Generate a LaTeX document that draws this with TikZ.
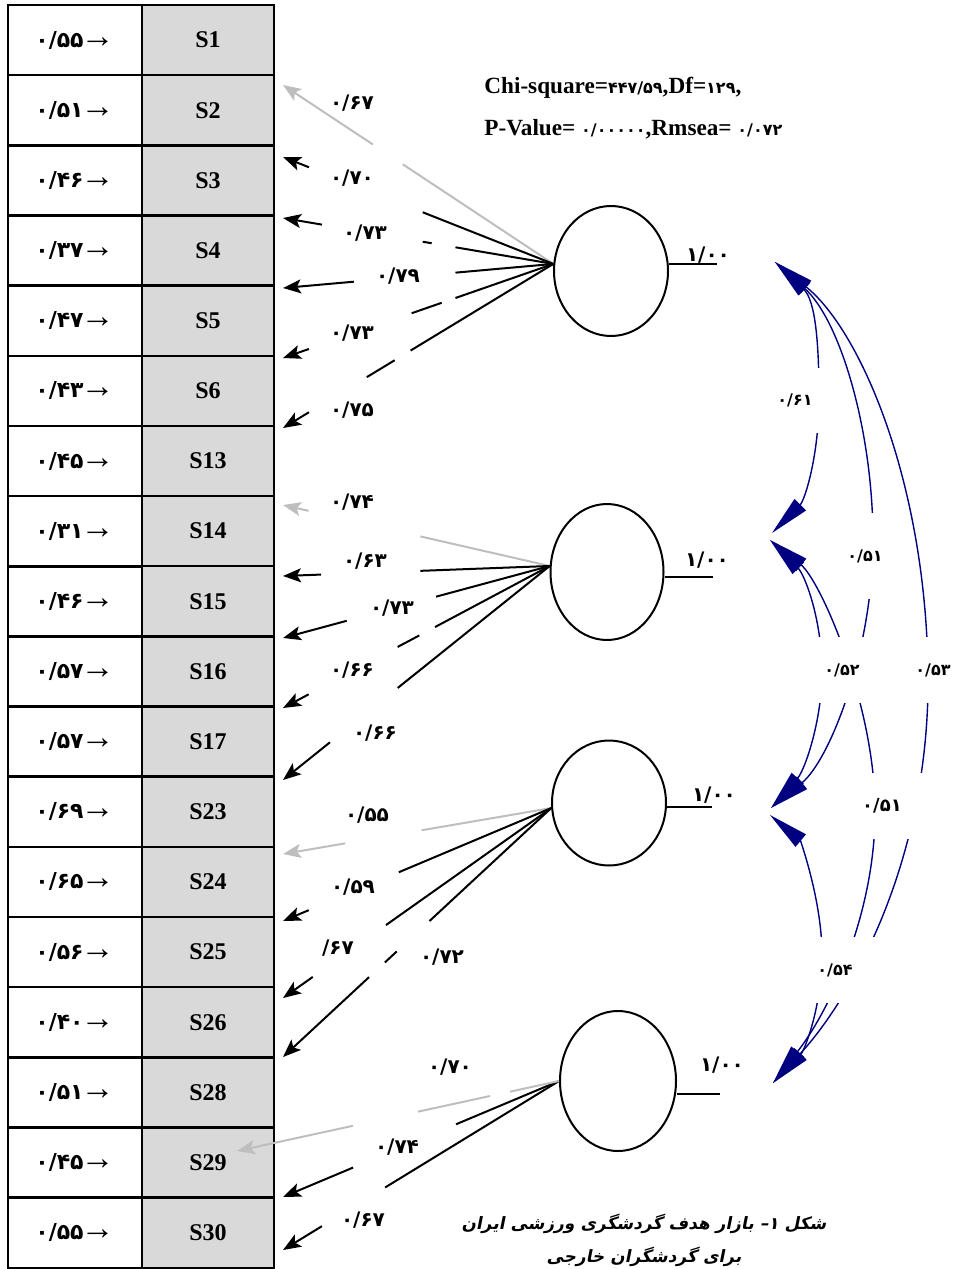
\documentclass[tikz,border=0pt]{standalone}
\usepackage{fontspec}
\usetikzlibrary{calc,arrows.meta,shapes.geometric}
\setmainfont{Liberation Serif}
\newfontfamily\fadig{DejaVu Sans}
\newfontfamily\facap[Script=Arabic,FakeSlant=0.2]{DejaVu Sans}
\TeXXeTstate=1
\definecolor{cellgrey}{RGB}{217,217,217}
\definecolor{lgrey}{RGB}{190,190,190}
\definecolor{corrblue}{RGB}{0,0,128}
\newcommand{\rarr}{{\rmfamily\bfseries\fontsize{17}{14}\selectfont\kern-1.5pt→}}
\newcommand{\fd}[1]{{\fadig\fontsize{8}{8}\selectfont #1}}

\begin{document}
\begin{tikzpicture}[x=0.5pt,y=-0.5pt,
	errcell/.style={draw,line width=1.25pt,minimum width=67pt,minimum height=35.1pt,inner sep=0pt,font=\fadig\bfseries\fontsize{11}{12}\selectfont},
	itemcell/.style={errcell,fill=cellgrey,minimum width=66pt,font=\bfseries\fontsize{12}{14}\selectfont},
	factor/.style={draw,ellipse,line width=1pt,inner sep=0pt},
	load/.style={line width=1pt},
	headed/.style={-{Stealth[length=9pt,width=7pt,inset=2pt]}},
	lab/.style={font=\fadig\bfseries\fontsize{10}{12}\selectfont,inner sep=1pt},
	corr/.style={draw=corrblue,line width=0.7pt,{Triangle[length=20pt,width=8pt]}-{Triangle[length=20pt,width=8pt]}},
	clab/.style={fill=white,inner sep=0pt,font=\fadig\bfseries\fontsize{8}{10}\selectfont}]
	\useasboundingbox (0,0) rectangle (954,1269);
	% table of items
	\foreach \s/\v [count=\i from 0] in {1/۵۵,2/۵۱,3/۴۶,4/۳۷,5/۴۷,6/۴۳,13/۴۵,14/۳۱,15/۴۶,16/۵۷,17/۵۷,23/۶۹,24/۶۵,25/۵۶,26/۴۰,28/۵۱,29/۴۵,30/۵۵}{
		\node[errcell] (e\s) at (75,{40.1+70.15*\i}) {۰/\v\rarr};
		\node[itemcell] (s\s) at (208,{40.1+70.15*\i}) {S\s};
	}
	% factors
	\node[factor,minimum width=57pt,minimum height=65pt] (f1) at (611,271) {};
	\node[factor,minimum width=56.5pt,minimum height=68pt] (f2) at (607,572) {};
	\node[factor,minimum width=57pt,minimum height=62.5pt] (f3) at (609,803) {};
	\node[factor,minimum width=58pt,minimum height=70pt] (f4) at (618,1081) {};
	\coordinate (v1) at (717,264);
	\coordinate (v2) at (713,577);
	\coordinate (v3) at (712,807);
	\coordinate (v4) at (720,1094);
	\foreach \k in {1,...,4}
		\draw[load] (f\k.east |- v\k) -- (v\k);
	\node[lab] (u1) at (708,255) {۱/۰۰};
	\node[lab] (u2) at (707,560) {۱/۰۰};
	\node[lab] (u3) at (714,795) {۱/۰۰};
	\node[lab] (u4) at (722,1065) {۱/۰۰};
	% loadings
	\foreach \n/\y in {1/85,2/157,3/218,4/288,5/358,6/428,7/505,8/576,9/638,10/708,11/780,12/854,13/921,14/998,15/1057,17/1197,18/1250}
		\coordinate (t\n) at (283,\y);
	\coordinate (t16) at (237,1151);
	\foreach \fa/\tp/\p/\q/\cl in {f1.173/t1/.557/.668/lgrey, f1.173/t2/.483/.904/black, f1.173/t3/.362/.856/black, f1.173/t4/.362/.738/black, f1.173/t5/.362/.904/black, f1.173/t6/.528/.904/black,
		f2.174/t7/.485/.904/lgrey, f2.174/t8/.485/.857/black, f2.174/t9/.426/.761/black, f2.174/t10/.430/.904/black, f2.174/t11/.570/.824/black,
		f3.185/t12/.483/.768/lgrey, f3.185/t13/.568/.904/black, f3.185/t14/.616/.889/black, f3.185/t15/.454/.679/black,
		f4.180/t17/.373/.746/black, f4.180/t18/.630/.859/black}
		\draw[load,\cl,headed] (\fa) -- ($(\fa)!\p!(\tp)$) ($(\fa)!\q!(\tp)$) -- (\tp);
	\draw[load,lgrey,headed] (f4.180) -- ($(f4.180)!.152!(t16)$) ($(f4.180)!.214!(t16)$) -- ($(f4.180)!.438!(t16)$) ($(f4.180)!.640!(t16)$) -- (t16);
	\draw[load] ($(f1.173)!.450!(t3)$) -- ($(f1.173)!.483!(t3)$)
		($(f1.173)!.413!(t5)$) -- ($(f1.173)!.524!(t5)$)
		($(f1.173)!.587!(t6)$) -- ($(f1.173)!.690!(t6)$)
		($(f2.174)!.489!(t10)$) -- ($(f2.174)!.570!(t10)$)
		($(f3.185)!.576!(t15)$) -- ($(f3.185)!.620!(t15)$);
	\foreach \x/\y/\v [count=\j] in {352/103/۶۷, 352/178/۷۰, 365/233/۷۳, 398/276/۷۹, 352/333/۷۳, 352/410/۷۵, 352/502/۷۴, 365/561/۶۳, 392/608/۷۳, 352/670/۶۶, 375/733/۶۶, 367/815/۵۵, 353/887/۵۹, 442/957/۷۲, 450/1067/۷۰, 397/1147/۷۴, 363/1220/۶۷}
		\node[lab] (w\j) at (\x,\y) {۰/\v};
	\node[lab] (w18) at (338,948) {/۶۷};
	% correlations
	\coordinate (h1) at (775,262);
	\coordinate (h2a) at (772,533);
	\coordinate (h2b) at (770,540);
	\coordinate (h3a) at (771,808);
	\coordinate (h3b) at (770,815);
	\coordinate (h4) at (773,1083);
	\draw[corr] (h1) .. controls (815,300) and (819,340) .. (819,398) .. controls (819,455) and (805,500) .. (h2a);
	\draw[corr] (h1) .. controls (840,320) and (873,430) .. (873,540) .. controls (873,650) and (830,760) .. (h3a);
	\draw[corr] (h1) .. controls (860,330) and (925,480) .. (928,670) .. controls (931,860) and (850,1000) .. (h4);
	\draw[corr] (h2b) .. controls (805,575) and (822,620) .. (822,672) .. controls (822,720) and (805,770) .. (h3a);
	\draw[corr] (h2b) .. controls (820,580) and (873,700) .. (875,805) .. controls (877,910) and (830,1010) .. (h4);
	\draw[corr] (h3b) .. controls (800,840) and (822,900) .. (822,955) .. controls (822,1005) and (805,1050) .. (h4);
	\node[clab,minimum width=30pt,minimum height=32.5pt] (r1) at (795,400) {۰/۶۱};
	\node[clab,minimum width=23pt,minimum height=43pt] (r2) at (865,556) {۰/۵۱};
	\node[clab,minimum width=28pt,minimum height=33pt] (r3) at (842,670) {۰/۵۲};
	\node[clab,minimum width=20pt,minimum height=33pt] (r4) at (933,670) {۰/۵۳};
	\node[clab,minimum width=40pt,minimum height=33pt,font=\fadig\bfseries\fontsize{9}{10}\selectfont] (r5) at (882,806) {۰/۵۱};
	\node[clab,minimum width=42pt,minimum height=33pt] (r6) at (835,970) {۰/۵۴};
	% fit indices and caption
	\node[anchor=base west,align=left,inner sep=0pt,font=\bfseries\fontsize{11.6}{21}\selectfont] (fit) at (484,135) {Chi-square=\fd{۴۴۷/۵۹},Df=\fd{۱۲۹},\\P-Value= \fd{۰/۰۰۰۰۰},Rmsea= \fd{۰/۰۷۲}};
	\node[align=center,font=\facap\bfseries\fontsize{8.5}{16.5}\selectfont] (cap) at (644,1240) {\beginR شکل ۱– بازار هدف گردشگری ورزشی ایران\endR\\\beginR برای گردشگران خارجی\endR};
\end{tikzpicture}
\end{document}
